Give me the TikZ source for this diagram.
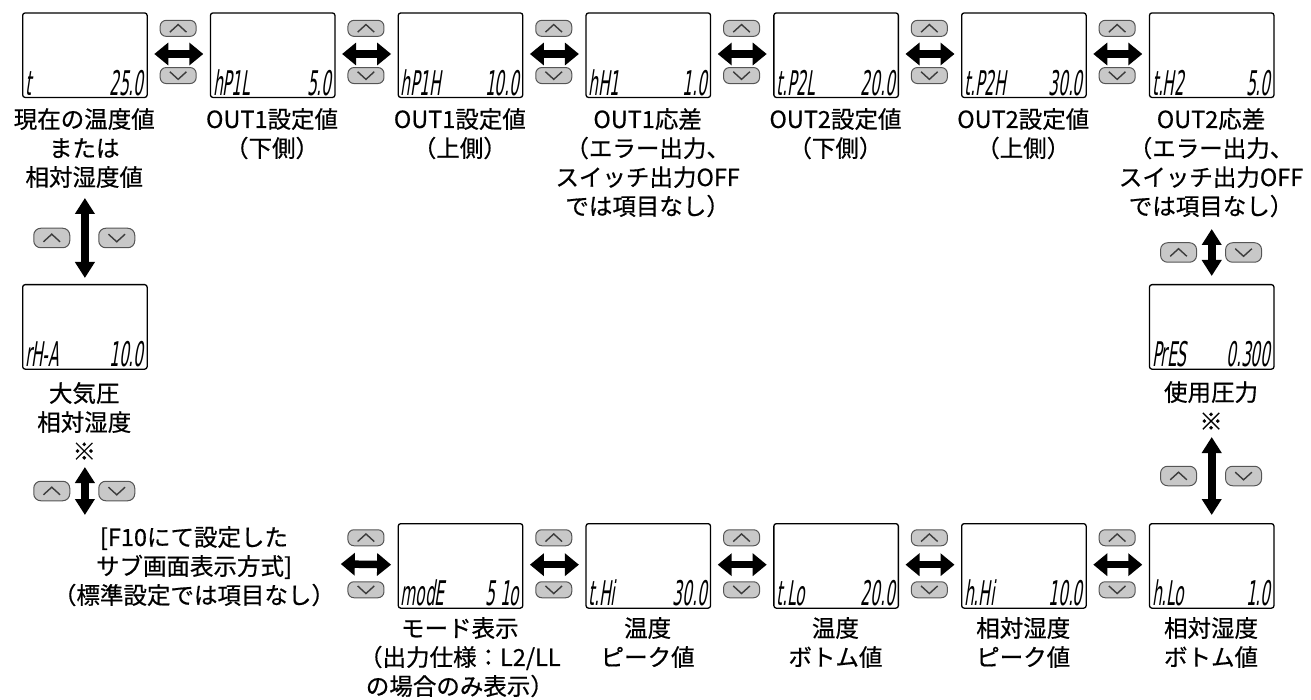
\documentclass[tikz,border=0pt]{standalone}
\usepackage{fontspec}
\setmainfont{Noto Sans CJK JP}[FakeBold=0.6]
\newfontfamily\lcdfont[FakeSlant=0.15,FakeStretch=0.45]{DejaVu Sans}
\usetikzlibrary{arrows.meta}
\definecolor{btnfill}{HTML}{C8C8C8}
\definecolor{btnline}{HTML}{555555}
\definecolor{chevcol}{HTML}{3C3C3C}
\tikzset{
  disp/.style={draw, line width=1.3pt, rounded corners=2.5pt, minimum width=124.5pt, minimum height=84.5pt, inner sep=0pt, anchor=north west},
  lbl/.style={anchor=north, align=center, inner sep=0pt, font=\fontsize{23.5}{29}\selectfont},
  lcdl/.style={anchor=base west, inner sep=0pt, font=\lcdfont\fontsize{34}{34}\selectfont},
  lcdr/.style={anchor=base east, inner sep=0pt, font=\lcdfont\fontsize{34}{34}\selectfont},
  hbtn/.style={draw=btnline, fill=btnfill, line width=1pt, rounded corners=6pt, minimum width=36pt, minimum height=16pt, inner sep=0pt},
  vbtn/.style={draw=btnline, fill=btnfill, line width=1pt, rounded corners=7pt, minimum width=36pt, minimum height=19.5pt, inner sep=0pt},
  chev/.style={draw=chevcol, line width=1.4pt, line join=miter},
  harr/.style={line width=7.5pt, {Triangle[length=14pt,width=22pt]}-{Triangle[length=14pt,width=22pt]}},
  varr/.style={line width=8pt, {Triangle[length=16pt,width=19pt]}-{Triangle[length=16pt,width=19pt]}}
}
\newcommand\mkUp[4]{\node[#1] (#2) at (#3,#4) {};
  \draw[chev] ([shift={(-8.3pt,-3.8pt)}]#2.center) -- ([shift={(0pt,3.8pt)}]#2.center) -- ([shift={(8.3pt,-3.8pt)}]#2.center);}
\newcommand\mkDn[4]{\node[#1] (#2) at (#3,#4) {};
  \draw[chev] ([shift={(-8.3pt,3.8pt)}]#2.center) -- ([shift={(0pt,-3.8pt)}]#2.center) -- ([shift={(8.3pt,3.8pt)}]#2.center);}
\begin{document}
\begin{tikzpicture}[x=1pt,y=-1pt]
\useasboundingbox (0,0) rectangle (1311,700);

% ---------- top row displays ----------
\node[disp] (d1) at (22.0,12.3) {};
\node[disp] (d2) at (209.8,12.3) {};
\node[disp] (d3) at (397.6,12.3) {};
\node[disp] (d4) at (585.4,12.3) {};
\node[disp] (d5) at (773.2,12.3) {};
\node[disp] (d6) at (961.0,12.3) {};
\node[disp] (d7) at (1148.8,12.3) {};
% side displays
\node[disp] (dL) at (22.0,284) {};
\node[disp] (dR) at (1148.8,284) {};
% bottom row displays
\node[disp] (b3) at (397.6,523) {};
\node[disp] (b4) at (585.4,523) {};
\node[disp] (b5) at (773.2,523) {};
\node[disp] (b6) at (961.0,523) {};
\node[disp] (b7) at (1148.8,523) {};

% ---------- LCD texts ----------
\node[lcdl] (d1a) at ([shift={(3pt,3pt)}]d1.south west) {t};
\node[lcdr] (d1b) at ([shift={(-4pt,3pt)}]d1.south east) {25.0};
\node[lcdl] (d2a) at ([shift={(3pt,3pt)}]d2.south west) {hP1L};
\node[lcdr] (d2b) at ([shift={(-4pt,3pt)}]d2.south east) {5.0};
\node[lcdl] (d3a) at ([shift={(3pt,3pt)}]d3.south west) {hP1H};
\node[lcdr] (d3b) at ([shift={(-4pt,3pt)}]d3.south east) {10.0};
\node[lcdl] (d4a) at ([shift={(3pt,3pt)}]d4.south west) {hH1};
\node[lcdr] (d4b) at ([shift={(-4pt,3pt)}]d4.south east) {1.0};
\node[lcdl] (d5a) at ([shift={(3pt,3pt)}]d5.south west) {t.P2L};
\node[lcdr] (d5b) at ([shift={(-4pt,3pt)}]d5.south east) {20.0};
\node[lcdl] (d6a) at ([shift={(3pt,3pt)}]d6.south west) {t.P2H};
\node[lcdr] (d6b) at ([shift={(-4pt,3pt)}]d6.south east) {30.0};
\node[lcdl] (d7a) at ([shift={(3pt,3pt)}]d7.south west) {t.H2};
\node[lcdr] (d7b) at ([shift={(-4pt,3pt)}]d7.south east) {5.0};
\node[lcdl] (dLa) at ([shift={(3pt,3pt)}]dL.south west) {rH-A};
\node[lcdr] (dLb) at ([shift={(-4pt,3pt)}]dL.south east) {10.0};
\node[lcdl] (dRa) at ([shift={(3pt,3pt)}]dR.south west) {PrES};
\node[lcdr] (dRb) at ([shift={(-4pt,3pt)}]dR.south east) {0.300};
\node[lcdl] (b3a) at ([shift={(3pt,3pt)}]b3.south west) {modE};
\node[lcdr] (b3b) at ([shift={(-4pt,3pt)}]b3.south east) {5 1o};
\node[lcdl] (b4a) at ([shift={(3pt,3pt)}]b4.south west) {t.Hi};
\node[lcdr] (b4b) at ([shift={(-4pt,3pt)}]b4.south east) {30.0};
\node[lcdl] (b5a) at ([shift={(3pt,3pt)}]b5.south west) {t.Lo};
\node[lcdr] (b5b) at ([shift={(-4pt,3pt)}]b5.south east) {20.0};
\node[lcdl] (b6a) at ([shift={(3pt,3pt)}]b6.south west) {h.Hi};
\node[lcdr] (b6b) at ([shift={(-4pt,3pt)}]b6.south east) {10.0};
\node[lcdl] (b7a) at ([shift={(3pt,3pt)}]b7.south west) {h.Lo};
\node[lcdr] (b7b) at ([shift={(-4pt,3pt)}]b7.south east) {1.0};

% ---------- labels ----------
\node[lbl] (t1) at (84.25,108) {現在の温度値\\または\\相対湿度値};
\node[lbl] (t2) at (272.05,108) {OUT1設定値\\（下側）};
\node[lbl] (t3) at (459.85,108) {OUT1設定値\\（上側）};
\node[lbl] (t4) at (647.65,108) {OUT1応差\\（エラー出力、\\スイッチ出力OFF\\では項目なし）};
\node[lbl] (t5) at (835.45,108) {OUT2設定値\\（下側）};
\node[lbl] (t6) at (1023.25,108) {OUT2設定値\\（上側）};
\node[lbl] (t7) at (1211.05,108) {OUT2応差\\（エラー出力、\\スイッチ出力OFF\\では項目なし）};
\node[lbl] (tL) at (84.25,382) {大気圧\\相対湿度\\※};
\node[lbl] (tR) at (1211.05,381) {使用圧力\\※};
\node[lbl] (tF) at (194,526) {[F10にて設定した\\サブ画面表示方式]\\（標準設定では項目なし）};
\node[lbl] (u3) at (459.85,617) {モード表示\\（出力仕様：L2/LL\\の場合のみ表示）};
\node[lbl] (u4) at (647.65,617) {温度\\ピーク値};
\node[lbl] (u5) at (835.45,617) {温度\\ボトム値};
\node[lbl] (u6) at (1023.25,617) {相対湿度\\ピーク値};
\node[lbl] (u7) at (1211.05,617) {相対湿度\\ボトム値};

% ---------- top row arrows & buttons ----------
\draw[harr] ([shift={(6.5pt,1.2pt)}]d1.east) -- ([shift={(-6.5pt,1.2pt)}]d2.west);
\draw[harr] ([shift={(6.5pt,1.2pt)}]d2.east) -- ([shift={(-6.5pt,1.2pt)}]d3.west);
\draw[harr] ([shift={(6.5pt,1.2pt)}]d3.east) -- ([shift={(-6.5pt,1.2pt)}]d4.west);
\draw[harr] ([shift={(6.5pt,1.2pt)}]d4.east) -- ([shift={(-6.5pt,1.2pt)}]d5.west);
\draw[harr] ([shift={(6.5pt,1.2pt)}]d5.east) -- ([shift={(-6.5pt,1.2pt)}]d6.west);
\draw[harr] ([shift={(6.5pt,1.2pt)}]d6.east) -- ([shift={(-6.5pt,1.2pt)}]d7.west);
\mkUp{hbtn}{ua1}{178.15}{28.35} \mkDn{hbtn}{da1}{178.15}{75.55}
\mkUp{hbtn}{ua2}{365.95}{28.35} \mkDn{hbtn}{da2}{365.95}{75.55}
\mkUp{hbtn}{ua3}{553.75}{28.35} \mkDn{hbtn}{da3}{553.75}{75.55}
\mkUp{hbtn}{ua4}{741.55}{28.35} \mkDn{hbtn}{da4}{741.55}{75.55}
\mkUp{hbtn}{ua5}{929.35}{28.35} \mkDn{hbtn}{da5}{929.35}{75.55}
\mkUp{hbtn}{ua6}{1117.15}{28.35} \mkDn{hbtn}{da6}{1117.15}{75.55}

% ---------- bottom row arrows & buttons ----------
\coordinate (bl) at (340.8,564);
\draw[harr] (bl) -- ([shift={(-6.5pt,1.2pt)}]b3.west);
\draw[harr] ([shift={(6.5pt,1.2pt)}]b3.east) -- ([shift={(-6.5pt,1.2pt)}]b4.west);
\draw[harr] ([shift={(6.5pt,1.2pt)}]b4.east) -- ([shift={(-6.5pt,1.2pt)}]b5.west);
\draw[harr] ([shift={(6.5pt,1.2pt)}]b5.east) -- ([shift={(-6.5pt,1.2pt)}]b6.west);
\draw[harr] ([shift={(6.5pt,1.2pt)}]b6.east) -- ([shift={(-6.5pt,1.2pt)}]b7.west);
\mkUp{hbtn}{ub2}{365.95}{537.75} \mkDn{hbtn}{db2}{365.95}{589.75}
\mkUp{hbtn}{ub3}{553.75}{537.75} \mkDn{hbtn}{db3}{553.75}{589.75}
\mkUp{hbtn}{ub4}{741.55}{537.75} \mkDn{hbtn}{db4}{741.55}{589.75}
\mkUp{hbtn}{ub5}{929.35}{537.75} \mkDn{hbtn}{db5}{929.35}{589.75}
\mkUp{hbtn}{ub6}{1117.15}{537.75} \mkDn{hbtn}{db6}{1117.15}{589.75}

% ---------- vertical arrows & buttons ----------
\draw[varr] ([yshift=86pt]dL.north) -- ([yshift=6pt]dL.north);
\mkUp{vbtn}{uv1}{51.75}{238} \mkDn{vbtn}{dv1}{116.75}{238}
\draw[varr] ([yshift=59pt]tF.north -| dL.south) -- ([yshift=11pt]tF.north -| dL.south);
\mkUp{vbtn}{uv2}{51.75}{491} \mkDn{vbtn}{dv2}{116.75}{491}
\draw[varr] ([yshift=55pt]dR.north) -- ([yshift=8pt]dR.north);
\mkUp{vbtn}{uv3}{1178.55}{252.5} \mkDn{vbtn}{dv3}{1243.55}{252.5}
\draw[varr] ([yshift=86pt]b7.north) -- ([yshift=8pt]b7.north);
\mkUp{vbtn}{uv4}{1178.55}{476} \mkDn{vbtn}{dv4}{1243.55}{476}
\end{tikzpicture}
\end{document}
